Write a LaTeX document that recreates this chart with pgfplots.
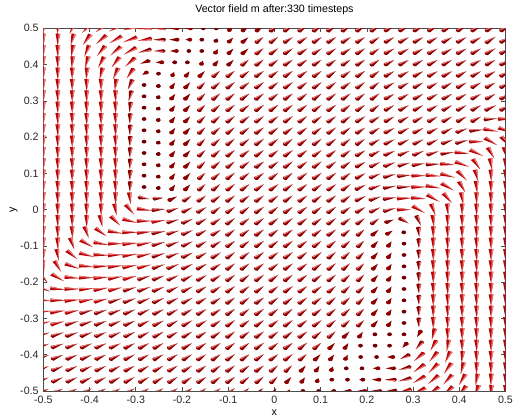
\documentclass[border=0pt]{standalone}
\usepackage{fontspec}
\setmainfont{Liberation Sans}
\usepackage{pgfplots}
\pgfplotsset{compat=1.18}

\definecolor{conered}{RGB}{185,5,5}
\definecolor{conedark}{RGB}{140,0,0}
\definecolor{conedot}{RGB}{115,0,5}
\definecolor{conelight}{RGB}{240,125,125}

\def\coneH{11.25}
\def\coneR{1.8}
\pgfdeclareplotmark{cone}{%
  \pgfkeys{/pgf/fpu=false}%
  \pgfmathsetmacro\cnM{\coneM/100}%
  \pgfmathsetmacro\cnT{\coneH*\cnM/2}%
  \pgfmathsetmacro\cnB{0-\cnT}%
  \pgfmathsetmacro\cnE{\coneR*sqrt(1.0001-\cnM*\cnM)}%
  \pgfmathsetmacro\cnL{0.3*\coneR}%
  \pgfmathsetmacro\cnPhi{atan2(sin(\coneA)/0.786,cos(\coneA))}%
  \pgftransformyscale{0.786}%
  \pgftransformrotate{\cnPhi}%
  \ifdim\cnM pt>0.88pt \pgfsetfillcolor{conered}\else
    \ifdim\cnM pt>0.25pt \pgfsetfillcolor{conedark}\else\pgfsetfillcolor{conedot}\fi\fi
  \pgfpathellipse{\pgfpoint{\cnB pt}{0pt}}{\pgfpoint{\cnE pt}{0pt}}{\pgfpoint{0pt}{\coneR pt}}%
  \pgfusepathqfill
  \pgfpathmoveto{\pgfpoint{\cnT pt}{0pt}}%
  \pgfpathlineto{\pgfpoint{\cnB pt}{\coneR pt}}%
  \pgfpathlineto{\pgfpoint{\cnB pt}{-\coneR pt}}%
  \pgfpathclose
  \pgfusepathqfill
  \ifdim\cnM pt>0.6pt
    \pgfsetfillcolor{conelight}%
    \pgfpathmoveto{\pgfpoint{\cnT pt}{0pt}}%
    \pgfpathlineto{\pgfpoint{\cnB pt}{\coneR pt}}%
    \pgfpathlineto{\pgfpoint{\cnB pt}{\cnL pt}}%
    \pgfpathclose
    \pgfusepathqfill
  \fi
}

\pgfplotsset{conest/.style={scatter, only marks, mark=cone,
  scatter/@pre marker code/.code={\pgfscope},
  scatter/@post marker code/.code={\endpgfscope},
  visualization depends on={value \thisrow{a}\as\coneA},
  visualization depends on={value \thisrow{m}\as\coneM}}}

\newcommand\conerow[2]{\addplot[conest] table[x expr=\coordindex/32-0.5, y expr=#1, row sep=\\] {a m\\#2};}

\begin{document}
\begin{tikzpicture}
\begin{axis}[
  scale only axis, width=346.6pt, height=272pt,
  xmin=-0.5, xmax=0.5, ymin=-0.5, ymax=0.5,
  xtick={-0.5,-0.4,-0.3,-0.2,-0.1,0,0.1,0.2,0.3,0.4,0.5},
  ytick={-0.5,-0.4,-0.3,-0.2,-0.1,0,0.1,0.2,0.3,0.4,0.5},
  tick align=inside, major tick length=3pt,
  axis line style={black!70, line width=0.5pt},
  every tick/.style={black!70, line width=0.5pt},
  /pgf/number format/assume math mode=true,
  tick label style={font=\fontsize{8}{9}\selectfont, black!85},
  every axis title shift=0pt,
  title={Vector field m after:330 timesteps},
  title style={font=\fontsize{8}{9}\selectfont, at={(axis description cs:0.5,1.0423)}, anchor=base},
  xlabel={x}, ylabel={y},
  xlabel style={font=\fontsize{8}{9}\selectfont, at={(axis description cs:0.5,-0.0607)}, anchor=center},
  ylabel style={font=\fontsize{8}{9}\selectfont, at={(axis description cs:-0.0640,0.5)}, anchor=center},
  clip marker paths=true,
]
\conerow{0.5}{-90 100\\-95 100\\-115 100\\-135 100\\-145 100\\-155 100\\-165 100\\-175 95\\180 80\\180 60\\180 40\\180 15\\0 5\\45 40\\40 52\\37 60\\35 65\\32 68\\32 68\\32 68\\32 68\\32 68\\32 68\\32 68\\28 70\\28 70\\28 70\\28 70\\28 70\\28 70\\28 70\\28 70\\28 70\\}
\conerow{0.46875}{-90 100\\-92 100\\-105 100\\-125 100\\-140 100\\-150 100\\-160 100\\-170 90\\180 75\\180 55\\180 30\\0 5\\60 25\\45 45\\40 56\\37 62\\35 66\\32 68\\32 68\\32 68\\32 68\\32 68\\32 68\\32 68\\28 70\\28 70\\28 70\\28 70\\28 70\\28 70\\28 70\\32 78\\28 70\\}
\conerow{0.4375}{-90 100\\-90 100\\-100 100\\-112 100\\-128 100\\-140 100\\-150 100\\-165 85\\180 65\\180 45\\180 15\\0 5\\55 35\\45 50\\40 58\\37 64\\35 67\\32 68\\32 68\\32 68\\32 68\\32 68\\32 68\\32 68\\28 70\\28 70\\28 70\\28 70\\28 70\\28 70\\28 70\\30 75\\28 70\\}
\conerow{0.40625}{-90 100\\-90 100\\-95 100\\-105 100\\-118 100\\-128 100\\-138 95\\-160 60\\180 42\\180 20\\0 5\\65 30\\50 45\\43 56\\39 62\\36 66\\35 68\\33 68\\33 68\\33 68\\33 68\\33 68\\33 68\\33 68\\28 70\\28 70\\28 70\\28 70\\28 70\\28 70\\28 70\\28 70\\28 70\\}
\conerow{0.375}{-90 100\\-90 100\\-90 100\\-95 100\\-105 100\\-115 100\\-125 90\\-150 35\\0 5\\65 30\\52 45\\45 56\\40 63\\37 67\\35 68\\34 68\\34 68\\34 68\\34 68\\34 68\\34 68\\34 68\\34 68\\34 68\\28 70\\28 70\\28 70\\28 70\\28 70\\28 70\\28 70\\28 70\\28 70\\}
\conerow{0.34375}{-90 100\\-90 100\\-90 100\\-90 100\\-90 100\\-98 100\\-115 85\\0 5\\65 20\\55 45\\48 55\\43 62\\39 66\\37 69\\35 70\\35 70\\35 70\\35 70\\35 70\\35 70\\35 70\\35 70\\35 70\\35 70\\28 70\\28 70\\28 70\\28 70\\28 70\\28 70\\28 70\\28 70\\28 70\\}
\conerow{0.3125}{-90 100\\-90 100\\-90 100\\-90 100\\-90 100\\-90 100\\-105 85\\0 5\\60 20\\52 48\\46 57\\42 63\\39 67\\37 69\\35 70\\35 70\\35 70\\35 70\\35 70\\35 70\\35 70\\35 70\\35 70\\35 70\\28 70\\28 70\\28 70\\28 70\\28 70\\28 70\\28 70\\28 70\\28 70\\}
\conerow{0.28125}{-90 100\\-90 100\\-90 100\\-90 100\\-90 100\\-90 100\\-98 82\\0 5\\60 20\\52 48\\46 57\\42 63\\39 67\\37 69\\35 70\\35 70\\35 70\\35 70\\35 70\\35 70\\35 70\\35 70\\35 70\\35 70\\28 70\\28 70\\28 70\\28 70\\28 70\\28 70\\28 70\\25 78\\28 70\\}
\conerow{0.25}{-90 100\\-90 100\\-90 100\\-90 100\\-90 100\\-90 100\\-92 80\\0 5\\60 20\\52 48\\46 57\\42 63\\39 67\\37 69\\35 70\\35 70\\35 70\\35 70\\35 70\\35 70\\35 70\\35 70\\32 70\\30 70\\28 70\\28 70\\28 70\\28 70\\28 70\\28 70\\28 70\\5 85\\0 90\\}
\conerow{0.21875}{-90 100\\-90 100\\-90 100\\-90 100\\-90 100\\-90 100\\-92 80\\0 5\\60 20\\52 48\\46 57\\42 63\\39 67\\37 69\\35 70\\35 70\\35 70\\35 70\\35 70\\35 70\\35 70\\35 70\\32 70\\30 70\\26 72\\26 72\\26 72\\26 72\\26 72\\20 75\\5 85\\-10 95\\-20 100\\}
\conerow{0.1875}{-90 100\\-90 100\\-90 100\\-90 100\\-90 100\\-90 100\\-92 80\\0 5\\60 20\\52 48\\46 57\\42 63\\39 67\\37 69\\35 70\\35 70\\35 70\\35 70\\35 70\\35 70\\35 70\\35 70\\32 70\\28 71\\25 72\\25 72\\25 72\\25 72\\20 75\\15 80\\0 90\\-30 100\\-50 100\\}
\conerow{0.15625}{-90 100\\-90 100\\-90 100\\-90 100\\-90 100\\-90 100\\-92 80\\0 5\\60 20\\52 48\\46 57\\42 63\\39 67\\37 69\\35 70\\35 70\\35 70\\35 70\\35 70\\35 70\\35 70\\35 70\\30 70\\26 72\\22 74\\22 74\\22 74\\18 78\\8 85\\-5 92\\-25 100\\-60 100\\-75 100\\}
\conerow{0.125}{-90 100\\-90 100\\-90 100\\-90 100\\-90 100\\-90 100\\-92 80\\0 5\\60 20\\52 48\\46 57\\42 63\\39 67\\37 69\\35 70\\35 70\\35 70\\35 70\\35 70\\35 70\\35 70\\35 70\\28 70\\25 72\\20 75\\15 78\\10 82\\2 88\\-5 92\\-20 100\\-55 100\\-80 100\\-88 100\\}
\conerow{0.09375}{-90 100\\-90 100\\-90 100\\-90 100\\-90 100\\-90 100\\-92 80\\0 5\\60 20\\52 48\\46 57\\42 63\\39 67\\37 69\\35 70\\35 70\\35 70\\35 70\\35 70\\35 70\\35 70\\35 70\\28 70\\22 74\\15 78\\5 85\\0 90\\-5 95\\-15 100\\-45 100\\-75 100\\-88 100\\-90 100\\}
\conerow{0.0625}{-90 100\\-90 100\\-90 100\\-90 100\\-90 100\\-90 100\\-92 80\\0 5\\60 20\\52 48\\46 57\\42 63\\39 67\\37 69\\35 70\\35 70\\35 70\\35 70\\35 70\\35 70\\35 70\\35 70\\25 72\\18 76\\10 80\\3 88\\0 92\\-10 100\\-30 100\\-60 100\\-85 100\\-90 100\\-90 100\\}
\conerow{0.03125}{-90 100\\-90 100\\-90 100\\-90 100\\-90 100\\-90 100\\-82 100\\-10 70\\5 62\\25 60\\33 64\\35 67\\35 70\\35 70\\35 70\\35 70\\35 70\\35 70\\35 70\\35 70\\35 70\\35 70\\25 72\\18 76\\8 82\\2 90\\-5 95\\-30 100\\-50 100\\-80 100\\-90 100\\-90 100\\-90 100\\}
\conerow{0}{-90 100\\-90 100\\-90 100\\-90 100\\-90 100\\-80 100\\-50 100\\-8 100\\5 85\\18 75\\25 70\\30 70\\35 70\\35 70\\35 70\\35 70\\35 70\\35 70\\35 70\\35 70\\35 70\\33 70\\30 70\\25 72\\15 80\\0 90\\-30 100\\-70 100\\-85 100\\-90 100\\-90 100\\-90 100\\-90 100\\}
\conerow{-0.03125}{-90 100\\-90 100\\-90 100\\-90 100\\-78 100\\-45 100\\-15 100\\0 95\\8 90\\15 80\\22 75\\28 72\\32 70\\35 70\\35 70\\35 70\\35 70\\35 70\\35 70\\35 70\\35 70\\35 70\\35 67\\35 64\\20 55\\-30 70\\-65 85\\-85 100\\-90 100\\-90 100\\-90 100\\-90 100\\-90 100\\}
\conerow{-0.0625}{-90 100\\-90 100\\-88 100\\-70 100\\-35 100\\-10 100\\0 100\\5 95\\10 88\\16 80\\22 75\\27 72\\30 70\\35 70\\35 70\\35 70\\35 70\\35 70\\35 70\\35 70\\35 70\\37 67\\40 64\\40 58\\30 45\\0 8\\-85 75\\-90 100\\-90 100\\-90 100\\-90 100\\-90 100\\-90 100\\}
\conerow{-0.09375}{-90 100\\-88 100\\-70 100\\-30 100\\-10 100\\0 100\\5 100\\10 95\\15 88\\20 80\\24 76\\28 72\\31 70\\35 70\\35 70\\35 70\\35 70\\35 70\\35 70\\35 70\\38 69\\40 66\\43 62\\47 56\\55 45\\0 5\\-90 72\\-90 100\\-90 100\\-90 100\\-90 100\\-90 100\\-90 100\\}
\conerow{-0.125}{-90 100\\-80 100\\-40 100\\-15 100\\-3 100\\3 100\\8 100\\12 95\\16 88\\20 82\\24 77\\28 73\\31 70\\35 70\\35 70\\35 70\\35 70\\35 70\\35 70\\35 70\\38 69\\40 66\\43 62\\47 56\\55 45\\0 5\\-90 72\\-90 100\\-90 100\\-90 100\\-90 100\\-90 100\\-90 100\\}
\conerow{-0.15625}{-85 100\\-60 100\\-20 100\\-5 100\\2 100\\6 100\\10 97\\14 92\\18 87\\22 82\\25 77\\28 73\\31 70\\35 70\\35 70\\35 70\\35 70\\35 70\\35 70\\35 70\\38 69\\40 66\\43 62\\47 56\\55 45\\0 5\\-90 72\\-90 100\\-90 100\\-90 100\\-90 100\\-90 100\\-90 100\\}
\conerow{-0.1875}{-50 100\\-30 100\\-5 100\\0 100\\5 100\\10 95\\14 90\\17 86\\20 82\\23 78\\26 75\\29 72\\31 70\\35 70\\35 70\\35 70\\35 70\\35 70\\35 70\\35 70\\38 69\\40 66\\43 62\\47 56\\55 45\\0 5\\-90 72\\-90 100\\-90 100\\-90 100\\-90 100\\-90 100\\-90 100\\}
\conerow{-0.21875}{-20 100\\-5 100\\0 100\\5 100\\10 95\\13 90\\16 88\\19 85\\21 82\\24 78\\26 75\\29 72\\31 70\\35 70\\35 70\\35 70\\35 70\\35 70\\35 70\\35 70\\38 69\\40 66\\43 62\\47 56\\55 45\\0 5\\-90 72\\-90 100\\-90 100\\-90 100\\-90 100\\-90 100\\-90 100\\}
\conerow{-0.25}{-5 100\\0 100\\5 100\\10 95\\14 90\\17 88\\19 85\\21 82\\23 80\\25 78\\27 75\\29 72\\31 70\\35 70\\35 70\\35 70\\35 70\\35 70\\35 70\\35 70\\38 69\\40 66\\43 62\\47 56\\55 45\\0 5\\-90 72\\-90 100\\-90 100\\-90 100\\-90 100\\-90 100\\-90 100\\}
\conerow{-0.28125}{5 100\\8 97\\12 92\\15 88\\18 85\\20 82\\22 80\\24 78\\25 76\\27 75\\28 74\\30 72\\32 70\\35 70\\35 70\\35 70\\35 70\\35 70\\35 70\\35 70\\38 69\\40 66\\43 62\\47 56\\55 45\\0 5\\-90 72\\-90 100\\-90 100\\-90 100\\-90 100\\-90 100\\-90 100\\}
\conerow{-0.3125}{12 92\\14 90\\16 88\\18 85\\20 82\\22 80\\23 78\\25 77\\26 76\\28 75\\29 74\\30 72\\32 70\\35 70\\35 70\\35 70\\35 70\\35 70\\35 70\\35 70\\38 69\\40 66\\43 62\\47 56\\55 45\\0 5\\-90 72\\-90 100\\-90 100\\-90 100\\-90 100\\-90 100\\-90 100\\}
\conerow{-0.34375}{16 86\\18 84\\19 82\\20 80\\22 79\\23 78\\24 77\\26 76\\27 75\\28 74\\30 73\\31 72\\33 70\\35 70\\35 70\\35 70\\35 70\\35 70\\35 70\\38 69\\40 66\\45 60\\55 48\\0 8\\0 5\\0 5\\-120 55\\-105 90\\-90 100\\-90 100\\-90 100\\-90 100\\-90 100\\}
\conerow{-0.375}{18 82\\19 81\\20 80\\22 79\\23 78\\24 77\\25 76\\27 75\\28 74\\29 74\\30 73\\32 72\\33 70\\35 70\\35 70\\35 70\\35 70\\35 70\\37 69\\40 66\\45 60\\55 48\\0 8\\0 5\\0 5\\-135 45\\-130 75\\-120 90\\-100 100\\-90 100\\-90 100\\-90 100\\-90 100\\}
\conerow{-0.40625}{20 80\\21 79\\22 78\\23 78\\24 77\\25 76\\26 75\\27 75\\28 74\\30 73\\31 72\\32 71\\34 70\\35 70\\35 70\\35 70\\35 70\\37 69\\40 65\\45 60\\52 50\\60 38\\0 5\\180 15\\180 40\\-155 65\\-140 90\\-130 95\\-115 100\\-95 100\\-90 100\\-90 100\\-90 100\\}
\conerow{-0.4375}{21 79\\22 78\\23 78\\24 77\\25 76\\26 76\\27 75\\28 74\\29 74\\30 73\\31 72\\33 71\\34 70\\35 70\\35 70\\35 70\\38 68\\42 64\\48 57\\55 47\\65 32\\0 5\\180 12\\180 35\\180 60\\-165 80\\-145 95\\-135 100\\-125 100\\-105 100\\-92 100\\-90 100\\-90 100\\}
\conerow{-0.46875}{22 78\\23 78\\24 77\\25 76\\26 76\\27 75\\28 75\\29 74\\30 73\\31 73\\32 72\\33 71\\34 70\\35 70\\36 69\\38 68\\42 64\\48 57\\55 45\\70 28\\0 5\\180 12\\180 25\\180 50\\180 70\\-165 85\\-150 95\\-140 100\\-132 100\\-120 100\\-100 100\\-92 100\\-90 100\\}
\conerow{-0.5}{22 78\\23 78\\24 77\\25 76\\26 76\\27 75\\28 75\\29 74\\30 73\\31 73\\32 72\\33 71\\35 70\\37 69\\40 66\\45 60\\52 50\\65 30\\0 5\\180 12\\180 25\\180 40\\180 55\\180 70\\-175 80\\-165 90\\-155 100\\-145 100\\-138 100\\-128 100\\-110 100\\-95 100\\-90 100\\}
\end{axis}
\pgfresetboundingbox
\path[use as bounding box] (current axis.south west) ++(-32.5pt,-21.75pt) rectangle ++(385.5pt,315pt);
\end{tikzpicture}
\end{document}
